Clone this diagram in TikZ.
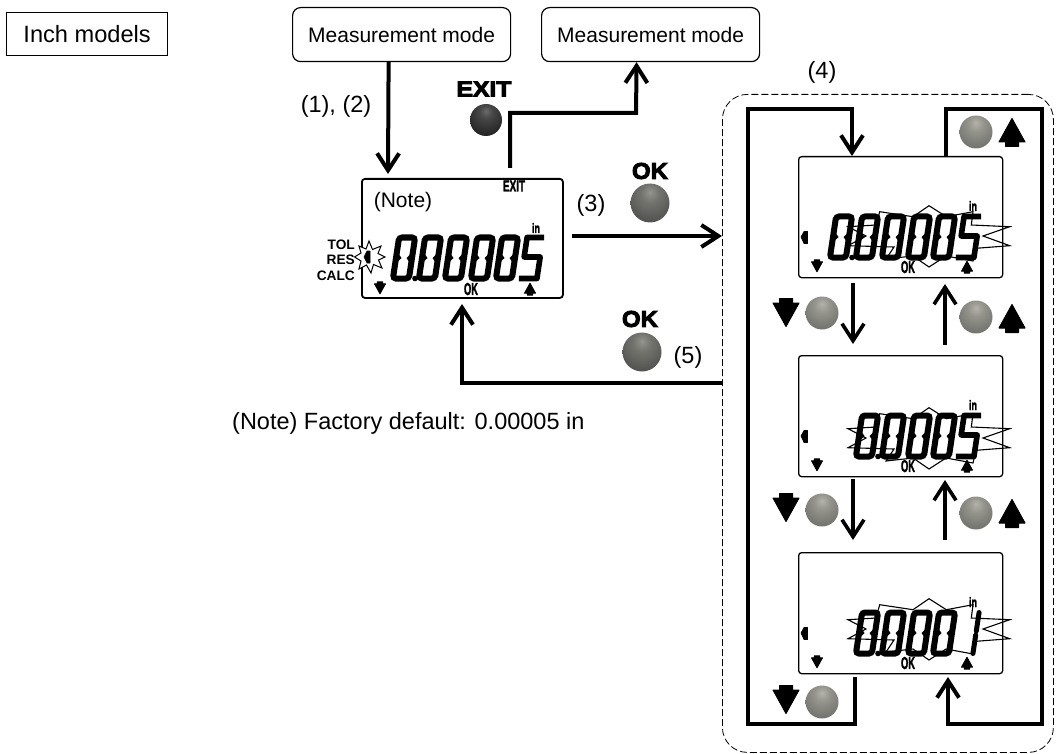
\documentclass[tikz,border=0pt]{standalone}
\usepackage{fontspec}
\usepackage{graphicx}
\setmainfont{Liberation Sans}
\newfontfamily\heavyfont[FakeBold=4]{Liberation Sans Bold}
\newfontfamily\lcdfont[FakeBold=2.5]{Liberation Sans Bold}
\usetikzlibrary{arrows.meta}
\pgfdeclareradialshading{ballgray}{\pgfpoint{0bp}{14bp}}{rgb(0bp)=(0.70,0.70,0.67);rgb(12bp)=(0.58,0.58,0.55);rgb(30bp)=(0.47,0.47,0.45);rgb(50bp)=(0.39,0.39,0.38);rgb(64bp)=(0.42,0.42,0.41);rgb(100bp)=(0.55,0.55,0.55)}
\pgfdeclareradialshading{balldark}{\pgfpoint{0bp}{14bp}}{rgb(0bp)=(0.58,0.58,0.56);rgb(12bp)=(0.45,0.45,0.43);rgb(30bp)=(0.34,0.34,0.33);rgb(50bp)=(0.27,0.27,0.27);rgb(64bp)=(0.32,0.32,0.32);rgb(100bp)=(0.45,0.45,0.45)}
\pgfdeclareradialshading{ballblack}{\pgfpoint{0bp}{14bp}}{rgb(0bp)=(0.42,0.42,0.42);rgb(10bp)=(0.28,0.28,0.28);rgb(30bp)=(0.16,0.16,0.16);rgb(60bp)=(0.10,0.10,0.10);rgb(100bp)=(0.10,0.10,0.10)}
\tikzset{
  modebox/.style={draw,line width=1.2pt,rounded corners=8pt,anchor=north west,inner sep=0pt,font=\fontsize{21}{24}\selectfont},
  lcdbox/.style={draw,line width=1.3pt,rounded corners=3pt,anchor=north west,inner sep=0pt,minimum width=204pt,minimum height=121pt},
  lab/.style={inner sep=0pt,font=\fontsize{23.5}{26}\selectfont},
  side/.style={inner sep=0pt,anchor=east,font=\fontsize{13.7}{15}\selectfont\bfseries},
  btn/.style={circle,inner sep=0pt,minimum size=33pt,shading=ballgray},
  okbtn/.style={circle,inner sep=0pt,minimum size=39pt,shading=balldark},
  arr/.style={draw,line width=4pt,line join=miter,-{Straight Barb[length=17pt,width=22pt,line width=4pt]}},
  thinarr/.style={draw,line width=3.4pt,-{Straight Barb[length=17pt,width=22pt,line width=3.6pt]}},
  lcdtext/.style={inner sep=0pt,font=\lcdfont},
}
\newcommand{\glyphup}[3]{\fill[line join=round,draw,line width=1pt,shift={(#1,#2)},scale=#3] (0,-13.5)--(13,10)--(6.5,10)--(6.5,14.5)--(-6.5,14.5)--(-6.5,10)--(-13,10)--cycle;}
\newcommand{\glyphdown}[3]{\fill[line join=round,draw,line width=1pt,shift={(#1,#2)},scale=#3] (0,13.5)--(13,-10)--(6.5,-10)--(6.5,-14.5)--(-6.5,-14.5)--(-6.5,-10)--(-13,-10)--cycle;}
\newcommand{\dgzero}[2]{\begin{scope}[shift={(#1,#2)},xslant=0.15]
  \draw[line width=6pt,rounded corners=3pt] (3,-20.5) rectangle (19,20.5);
  \fill (5.5,-3.5)--(8.5,0)--(5.5,3.5)--cycle;\fill (16.5,-3.5)--(13.5,0)--(16.5,3.5)--cycle;
\end{scope}}
\newcommand{\dgfive}[2]{\begin{scope}[shift={(#1,#2)},xslant=0.15]
  \draw[line width=5.6pt,line join=round] (20,-20.5)--(3,-20.5)--(3,-1)--(19,-1)--(19,20.5)--(1,20.5);
\end{scope}}
\newcommand{\dgone}[2]{\begin{scope}[shift={(#1,#2)},xslant=0.15]
  \draw[line width=5pt,line cap=round] (18,-20.5)--(18,-2);\draw[line width=5pt,line cap=round] (18,2)--(18,20.5);
\end{scope}}
\newcommand{\lcdstar}[1]{\draw[line width=1.1pt,line join=miter,yshift=#1pt] (81.7,52.7)--(115,57.7)--(131,46.7)--(148.3,57.7)--(175,52.7)--(173.3,66)--(211.7,67.7)--(185,77)--(211.7,86.7)--(178,89.3)--(175,102)--(148,97)--(131,108)--(115,97)--(88,100)--(96,88)--(50,86.7)--(68,77)--(50,67.7)--(78,66)--cycle;}
\newcommand{\lcdcommon}{
  \fill[line join=round,draw,line width=.6pt] (3,81)--(6,75.5)--(9.5,75.5)--(9.5,87.5)--(6,87.5)--cycle;
  \glyphdown{19}{110}{.42}
  \glyphup{169}{111}{.42}
  \node[lcdtext] at (110,111) {\resizebox{14pt}{12pt}{OK}};
  \node[lcdtext] at (175,50) {\resizebox{8pt}{10pt}{in}};
}
\begin{document}
\begin{tikzpicture}[x=1pt,y=-1pt]
\useasboundingbox (0,0) rectangle (1060,754);
% top row
\node[draw,line width=1.2pt,anchor=north west,inner sep=0pt,minimum width=161pt,minimum height=43pt,font=\fontsize{23.6}{26}\selectfont] (inch) at (6,12) {Inch models};
\node[modebox,minimum width=218pt,minimum height=54pt] (mmA) at (292,7) {Measurement mode};
\node[modebox,minimum width=218pt,minimum height=54pt] (mmB) at (541,7) {Measurement mode};
% dashed group
\node[draw,line width=.8pt,dash pattern=on 7pt off 3pt,rounded corners=25pt,anchor=north west,inner sep=0pt,minimum width=331pt,minimum height=658pt] (grp) at (722,94) {};
% main LCD
\node[lcdbox,line width=1.8pt,minimum width=201pt,minimum height=119pt] (lcdM) at (361,178) {};
\begin{scope}[shift={(lcdM.north west)}]
  \dgzero{32}{80}\dgzero{58}{80}\dgzero{84}{80}\dgzero{110}{80}\dgzero{135}{80}\dgfive{160}{80}
  \fill (54,100.5) circle (2.8);
  \lcdcommon
  \node[lcdtext] at (153,8) {\resizebox{22pt}{11pt}{EXIT}};
\end{scope}
\draw[fill=white,line width=1pt] (385,257)--(378.5,260)--(382,268)--(373.5,264.5)--(371,273)--(366.5,265)--(359,269)--(361,261)--(354.5,257)--(361,253)--(359,246)--(366,249)--(369,241)--(372.5,249.5)--(381,246)--(378,253.5)--cycle;
\fill[line join=round,draw,line width=.6pt] (364,257)--(367,251)--(370,251)--(370,263)--(367,263)--cycle;
\node[side] (tol) at (355,245) {TOL};
\node[side] (res) at (355,260) {RES};
\node[side] (calc) at (355,276) {CALC};
\node[inner sep=0pt,font=\fontsize{21}{24}\selectfont] (note) at (403,202) {(Note)};
% panels
\node[lcdbox] (lcdA) at (798,156) {};
\node[lcdbox] (lcdB) at (798,355) {};
\node[lcdbox] (lcdC) at (798,552) {};
\begin{scope}[shift={(lcdA.north west)}]
  \lcdstar{-3}
  \dgzero{32}{81}\dgzero{58}{81}\dgzero{84}{81}\dgzero{110}{81}\dgzero{135}{81}\dgfive{160}{81}
  \fill (54,101.5) circle (2.8);
  \lcdcommon
\end{scope}
\begin{scope}[shift={(lcdB.north west)}]
  \lcdstar{-6}
  \dgzero{58}{81}\dgzero{84}{81}\dgzero{110}{81}\dgzero{135}{81}\dgfive{160}{81}
  \fill (80,101.5) circle (2.8);
  \lcdcommon
\end{scope}
\begin{scope}[shift={(lcdC.north west)}]
  \lcdstar{0}
  \dgzero{58}{81}\dgzero{84}{81}\dgzero{110}{81}\dgzero{135}{81}\dgone{160}{81}
  \fill (80,101.5) circle (2.8);
  \lcdcommon
\end{scope}
% named free ends
\coordinate (fromA) at ([xshift=-13pt]mmA.south);
\coordinate (toM) at (388,174);
\coordinate (exitS) at (510,168);
\coordinate (exitT) at (636,113);
\coordinate (okS) at (572,236);
\coordinate (okT) at (grp.west |- okS);
\coordinate (backS) at (grp.west |- 0,383);
\coordinate (backC) at (462,383);
\coordinate (toMb) at (462,304);
\coordinate (aTop) at (852,109);
\coordinate (lft) at (748,109);
\coordinate (lftb) at (748,724);
\coordinate (ctop) at (855,677);
\coordinate (cbot) at (855,724);
\coordinate (tr1) at (946,156);
\coordinate (tr2) at (946,109);
\coordinate (tr3) at (1042,109);
\coordinate (tr4) at (1042,724);
\coordinate (tr5) at (948,724);
\coordinate (tr6) at (948,677);
% connectors
\draw[arr] (fromA) -- (toM);
\draw[arr] (exitS) -- (510,113) -- (exitT) -- ([xshift=-14pt]mmB.south);
\draw[arr] (okS) -- (okT);
\draw[arr] (backS) -- (backC) -- (toMb);
\draw[arr] (ctop) -- (cbot) -- (lftb) -- (lft) -- (aTop) -- (aTop |- lcdA.north);
\draw[arr] (tr1) -- (tr2) -- (tr3) -- (tr4) -- (tr5) -- (tr6);
\draw[thinarr] (853,283) -- (853,344);
\draw[thinarr] (945,345) -- (945,284);
\draw[thinarr] (853,479) -- (853,540);
\draw[thinarr] (945,540) -- (945,480);
% balls and buttons
\node[circle,inner sep=0pt,minimum size=32pt,shading=ballblack] (bExit) at (486,120) {};
\node[inner sep=0pt,font=\heavyfont] (tExit) at (484,89) {\resizebox{55pt}{15pt}{EXIT}};
\node[okbtn] (bOk1) at (650,203) {};
\node[inner sep=0pt,font=\heavyfont] (tOk1) at (650,171) {\resizebox{36pt}{16pt}{OK}};
\node[okbtn] (bOk2) at (642,352) {};
\node[inner sep=0pt,font=\heavyfont] (tOk2) at (640,319) {\resizebox{36pt}{16pt}{OK}};
\node[btn] (b1) at (976,132) {};
\node[btn] (b2) at (822,313) {};
\node[btn] (b3) at (976,317) {};
\node[btn] (b4) at (822,510) {};
\node[btn] (b5) at (976,513) {};
\node[btn] (b6) at (822,702) {};
\glyphup{1012}{132}{1}
\glyphdown{786}{313}{1}
\glyphup{1012}{318}{1}
\glyphdown{786}{508}{1}
\glyphup{1012}{513}{1}
\glyphdown{786}{700}{1}
% labels
\node[lab] (l12) at (336,106) {(1), (2)};
\node[lab] (l3) at (591,205) {(3)};
\node[lab] (l4) at (822,72) {(4)};
\node[lab] (l5) at (688,357) {(5)};
\node[lab,anchor=west] (fn) at (232,423) {(Note) Factory default: 0.00005 in};
\end{tikzpicture}
\end{document}
